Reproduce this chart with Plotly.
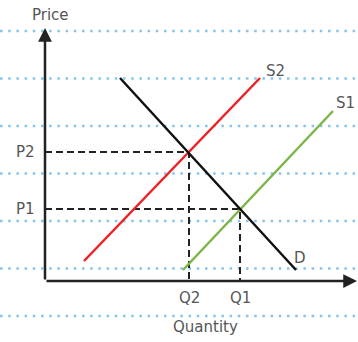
import plotly.graph_objects as go

# Data (quantity, price) in chart units; origin at axes corner
demand_q = [7.5, 25.1]
demand_p = [20.3, 1.1]
supply1_q = [13.8, 28.8]
supply1_p = [1.1, 17.0]
supply2_q = [3.9, 21.5]
supply2_p = [2.0, 20.3]
eq_labels_q = ["Q1", "Q2"]
eq_labels_p = ["P1", "P2"]
eq_q = [19.5, 14.4]
eq_p = [7.2, 12.9]
ruled_lines = [25, 20.25, 15.5, 10.75, 6, 1.25, -3.5]

XR = [-4.5, 31.3]
YR = [-6.1, 28.1]

fig = go.Figure()

# notebook ruled dotted lines
for y in ruled_lines:
    fig.add_shape(type="line", x0=XR[0], x1=XR[1], y0=y, y1=y, xref="x", yref="y",
                  line=dict(color="#86c4ee", width=2.5, dash="2.5px,5.7px"), layer="below")

# dashed equilibrium guides
for q, p in zip(eq_q, eq_p):
    fig.add_trace(go.Scatter(x=[0, q, q], y=[p, p, 0], mode="lines",
                             line=dict(color="#222", width=2, dash="7px,4px"),
                             hoverinfo="skip", showlegend=False))

fig.add_trace(go.Scatter(x=supply2_q, y=supply2_p, mode="lines",
                         line=dict(color="#ee2024", width=2.5), showlegend=False))
fig.add_trace(go.Scatter(x=supply1_q, y=supply1_p, mode="lines",
                         line=dict(color="#7ab648", width=2.5), showlegend=False))
fig.add_trace(go.Scatter(x=demand_q, y=demand_p, mode="lines",
                         line=dict(color="#111", width=2.5), showlegend=False))

# axes with arrows
fig.add_annotation(x=0, y=25.3, ax=0, ay=0, xref="x", yref="y", axref="x", ayref="y",
                   text="", showarrow=True, arrowhead=2, arrowsize=1.1, arrowwidth=2.5,
                   arrowcolor="#222")
fig.add_annotation(x=31.2, y=0, ax=0, ay=0, xref="x", yref="y", axref="x", ayref="y",
                   text="", showarrow=True, arrowhead=2, arrowsize=1.1, arrowwidth=2.5,
                   arrowcolor="#222")

lab_font = dict(family="DejaVu Sans", size=15, color="#555")

def label(x, y, t):
    fig.add_annotation(x=x, y=y, text=t, showarrow=False, xref="x", yref="y", font=lab_font)

label(0.5, 26.6, "Price")
label(16.0, -4.6, "Quantity")
for q, p, tq, tp in zip(eq_q, eq_p, eq_labels_q, eq_labels_p):
    label(-2.0, p, tp)
    label(q, -1.7, tq)
label(23.0, 21.0, "S2")
label(30.0, 17.8, "S1")
label(25.5, 2.3, "D")

fig.update_layout(
    width=358, height=342,
    margin=dict(l=0, r=0, t=0, b=0),
    paper_bgcolor="white", plot_bgcolor="white",
    xaxis=dict(range=XR, visible=False, fixedrange=True),
    yaxis=dict(range=YR, visible=False, fixedrange=True),
    showlegend=False,
)

fig.write_html("out.html", config={"displayModeBar": False},
               post_script="document.body.style.margin='0';document.body.style.overflow='hidden';")
